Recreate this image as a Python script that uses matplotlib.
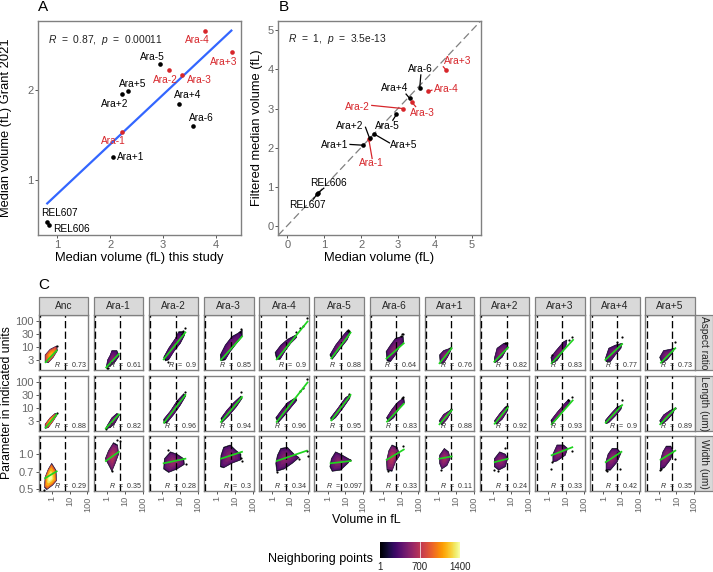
import numpy as np
from matplotlib import pyplot as plt
from matplotlib.patches import Rectangle
from matplotlib.cm import ScalarMappable
from matplotlib.colors import Normalize

plt.rcParams['font.family'] = ['Liberation Sans', 'DejaVu Sans']
plt.rcParams['mathtext.fontset'] = 'custom'
plt.rcParams['mathtext.it'] = 'Liberation Sans:italic'
plt.rcParams['mathtext.rm'] = 'Liberation Sans'

RED = '#d7262b'
W, H = 713, 572

# panel A
a_names = ['Ara-4', 'Ara+3', 'Ara-5', 'Ara-2', 'Ara-3', 'Ara+5', 'Ara+2', 'Ara+4', 'Ara-6', 'Ara-1', 'Ara+1', 'REL607', 'REL606']
a_x = [3.79, 4.30, 2.95, 3.11, 3.36, 2.34, 2.23, 3.31, 3.57, 2.22, 2.05, 0.80, 0.84]
a_y = [2.66, 2.42, 2.29, 2.22, 2.17, 1.99, 1.96, 1.85, 1.60, 1.53, 1.26, 0.53, 0.50]
a_lab_x = [3.64, 4.15, 2.80, 3.05, 3.68, 2.42, 2.08, 3.46, 3.73, 2.06, 2.39, 1.05, 1.26]
a_lab_y = [2.56, 2.31, 2.37, 2.11, 2.11, 2.07, 1.85, 1.94, 1.69, 1.43, 1.26, 0.63, 0.46]
a_fit_x = [0.81, 4.29]
a_fit_y = [0.74, 2.66]

# panel B
b_names = ['Ara-1', 'Ara+3', 'Ara-6', 'Ara-4', 'Ara+4', 'Ara-3', 'Ara-2', 'Ara-5', 'Ara+5', 'Ara+2', 'Ara+1', 'REL606', 'REL607']
b_x = [2.21, 4.31, 3.59, 3.81, 3.32, 3.37, 3.13, 2.96, 2.35, 2.23, 2.06, 0.84, 0.80]
b_y = [2.21, 3.98, 3.52, 3.44, 3.26, 3.17, 3.00, 2.85, 2.35, 2.24, 2.06, 0.84, 0.80]
b_lab_x = [2.28, 4.62, 3.62, 4.31, 2.90, 3.66, 1.91, 2.70, 3.16, 1.69, 1.28, 1.11, 0.54]
b_lab_y = [1.60, 4.23, 4.00, 3.51, 3.52, 2.88, 3.05, 2.56, 2.07, 2.55, 2.06, 1.09, 0.52]
b_seg_x = [2.30, 4.23, 3.62, 3.92, 3.22, 3.48, 2.29, 2.86, 2.77, 2.12, 1.70, 0.99, 0.71]
b_seg_y = [1.72, 4.07, 3.86, 3.47, 3.37, 3.05, 3.08, 2.70, 2.12, 2.52, 2.08, 0.96, 0.68]

# panel C, everything in log10 units
lines = ['Anc', 'Ara-1', 'Ara-2', 'Ara-3', 'Ara-4', 'Ara-5', 'Ara-6', 'Ara+1', 'Ara+2', 'Ara+3', 'Ara+4', 'Ara+5']
rows = ['Aspect ratio', 'Length (um)', 'Width (um)']

r_aspect = ['0.73', '0.61', '0.9', '0.85', '0.9', '0.88', '0.64', '0.76', '0.82', '0.83', '0.77', '0.73']
r_length = ['0.88', '0.82', '0.96', '0.94', '0.96', '0.95', '0.83', '0.88', '0.92', '0.93', '0.9', '0.89']
r_width = ['0.29', '0.35', '0.28', '0.3', '0.34', '0.097', '0.33', '0.11', '0.24', '0.33', '0.42', '0.35']

peak_aspect = [1150, 480, 450, 450, 450, 470, 500, 520, 500, 470, 470, 480]
peak_length = [1150, 480, 450, 450, 450, 470, 500, 520, 500, 470, 470, 480]
peak_width = [1400, 680, 560, 520, 520, 520, 680, 600, 540, 540, 540, 540]

cloud_aspect = [
    ([-.37, -.09, .28, .32, .09, -.19, -.37], [.68, .90, 1.03, .85, .59, .38, .42]),
    ([.28, .56, .69, .47, .19, -.04, .04, .19], [.85, .85, .64, .42, .25, .20, .49, .68]),
    ([.09, .37, .75, .94, 1.22, 1.27, 1.03, .66, .37, .19], [.59, .94, 1.32, 1.58, 1.58, 1.45, 1.13, .81, .49, .45]),
    ([.17, .45, .82, 1.14, 1.40, 1.40, 1.01, .73, .45, .21], [.68, 1.06, 1.39, 1.51, 1.64, 1.39, 1.06, .81, .49, .45]),
    ([.15, .47, .84, 1.31, 1.37, 1.03, .75, .43, .24], [.77, 1.06, 1.28, 1.45, 1.36, 1.13, .87, .51, .51]),
    ([.13, .45, .82, 1.10, 1.29, 1.10, .73, .45, .26], [.68, 1.06, 1.39, 1.62, 1.55, 1.26, .94, .68, .51]),
    ([.19, .43, .71, 1.14, 1.18, .90, .71, .43, .24], [.81, 1.06, 1.32, 1.41, 1.19, .94, .68, .42, .45]),
    ([.09, .32, .69, .73, .54, .32, .13], [.68, .85, .94, .85, .59, .36, .36]),
    ([.07, .22, .60, .84, .79, .51, .22, .09], [.55, .94, 1.13, 1.13, .94, .59, .42, .38]),
    ([.15, .39, .86, 1.05, 1.01, .77, .49, .21], [.59, .81, 1.19, 1.26, 1.06, .74, .46, .36]),
    ([.11, .30, .67, 1.05, .99, .67, .39, .15], [.55, .94, 1.06, 1.13, .94, .68, .42, .42]),
    ([.06, .28, .66, .90, .75, .47, .19], [.59, .85, .90, .94, .72, .49, .36]),
]
cloud_length = [
    ([-.37, -.09, .19, .32, .09, -.19, -.37], [.36, .61, .78, .74, .49, .23, .20]),
    ([0, .28, .56, .71, .47, .19, -.07], [.29, .61, .78, .72, .42, .23, .18]),
    ([.09, .47, .84, 1.22, 1.33, 1.03, .66, .28, .11], [.55, .87, 1.26, 1.54, 1.45, 1.10, .74, .42, .40]),
    ([.21, .54, .92, 1.33, 1.40, 1.07, .64, .26], [.59, .90, 1.19, 1.45, 1.36, 1.03, .68, .42]),
    ([.19, .47, .84, 1.31, 1.37, 1.03, .66, .32], [.61, .87, 1.19, 1.39, 1.28, 1.0, .68, .42]),
    ([.17, .54, 1.01, 1.29, 1.25, .82, .45, .21], [.61, .94, 1.39, 1.51, 1.36, .94, .61, .49]),
    ([.21, .52, .81, 1.18, 1.22, .90, .62, .34], [.61, .94, 1.19, 1.39, 1.19, .94, .61, .46]),
    ([.07, .32, .73, .77, .51, .22], [.49, .74, .92, .85, .55, .33]),
    ([.07, .37, .69, .84, .79, .51, .19], [.49, .77, 1.03, 1.03, .85, .55, .36]),
    ([.15, .49, .96, 1.14, 1.24, .77, .39, .21], [.51, .81, 1.19, 1.32, 1.26, .81, .49, .36]),
    ([.11, .39, .77, 1.05, .99, .67, .30, .15], [.51, .74, 1.03, 1.10, .94, .68, .42, .38]),
    ([.06, .28, .66, .92, .81, .47, .19], [.49, .72, .90, .97, .77, .51, .36]),
]
cloud_width = [
    ([0, .24, .28, .06, -.28, -.41, -.37, -.19], [-.08, -.14, -.23, -.27, -.31, -.29, -.20, -.13]),
    ([.37, .60, .66, .47, .28, .15, -.09, .09], [.10, .08, 0, -.08, -.15, -.11, -.04, .03]),
    ([.47, .84, 1.22, 1.25, .84, .37, .09, .13], [.02, 0, -.04, -.09, -.13, -.16, -.13, -.04]),
    ([.36, .73, 1.07, 1.33, 1.33, .82, .36, .17, .21], [.06, .08, .03, 0, -.05, -.08, -.12, -.11, -.01]),
    ([.47, .84, 1.22, 1.50, 1.12, .66, .24, .19, .28], [.05, .06, 0, -.03, -.08, -.13, -.15, -.08, -.01]),
    ([.45, .73, 1.29, 1.14, .73, .26, .13, .21], [.02, 0, -.05, -.08, -.14, -.15, -.11, -.04]),
    ([.52, .81, .96, .71, .52, .24, .21, .34], [.08, .06, -.01, -.07, -.15, -.14, -.06, .03]),
    ([.36, .60, .69, .51, .22, .09, .09], [.05, .02, -.04, -.10, -.13, -.08, -.01]),
    ([.37, .69, .82, .69, .32, .07, .07], [.02, 0, -.04, -.11, -.14, -.11, -.04]),
    ([.49, .86, 1.09, .96, .49, .26, .26], [.08, .08, .05, -.01, -.06, -.07, 0]),
    ([.49, .77, .99, .77, .39, .15, .15, .26], [.05, .05, .01, -.07, -.14, -.14, -.06, 0]),
    ([.43, .69, .84, .66, .32, .09, .13, .24], [.07, .07, .02, -.05, -.12, -.13, -.04, .02]),
]

fit_aspect = [
    ([-.34, .28], [.40, .85]), ([-.04, .67], [.20, .72]), ([.09, 1.31], [.51, 1.55]), ([.21, 1.39], [.49, 1.39]),
    ([.24, 1.97], [.51, 1.97]), ([.21, 1.29], [.55, 1.54]), ([.21, 1.18], [.54, 1.13]), ([.09, .77], [.36, .94]),
    ([.07, .84], [.42, .97]), ([.19, 1.39], [.36, 1.26]), ([.11, 1.05], [.49, 1.10]), ([.13, .94], [.38, .94]),
]
fit_length = [
    ([-.34, .28], [.23, .74]), ([-.06, .67], [.20, .74]), ([.11, 1.31], [.42, 1.49]), ([.21, 1.39], [.45, 1.41]),
    ([.24, 1.97], [.45, 1.97]), ([.21, 1.29], [.51, 1.49]), ([.24, 1.18], [.46, 1.15]), ([.09, .77], [.36, .90]),
    ([.09, .82], [.38, 1.0]), ([.19, 1.37], [.36, 1.28]), ([.13, 1.05], [.42, 1.10]), ([.09, .94], [.36, .97]),
]
fit_width = [
    ([-.37, .28], [-.21, -.15]), ([-.06, .67], [-.06, .02]), ([.09, 1.31], [-.08, -.04]), ([.21, 1.39], [-.04, .02]),
    ([.24, 1.93], [-.06, .03]), ([.17, 1.29], [-.08, -.06]), ([.22, 1.18], [-.05, .04]), ([.09, .77], [-.04, -.02]),
    ([.09, .82], [-.07, -.04]), ([.19, 1.35], [-.01, .06]), ([.13, 1.01], [-.07, .02]), ([.11, .94], [-.05, .03]),
]

# stray points outside the dense clouds
out_aspect = [
    ([.30], [1.02]), ([-.02, .05], [.18, .19]), ([1.31, .34, 1.10, 1.2], [1.71, .42, 1.50, 1.62]),
    ([1.34, 1.25], [1.68, 1.55]), ([1.93, 1.69, 1.55, 1.31], [2.09, 1.80, 1.71, 1.55]), ([1.15, 1.2], [1.66, 1.6]),
    ([1.15, 1.1, 1.05], [1.47, 1.5, 1.42]), ([.7], [.96]), ([.75, .65], [1.15, 1.14]),
    ([1.35, 1.15, .21], [1.39, 1.24, .68]), ([1.05, .77], [1.36, 1.19]), ([.92], [1.18]),
]
out_length = [
    ([.3], [.78]), ([-.06], [.18]), ([1.31, .85], [1.62, 1.25]), ([1.33], [1.60]),
    ([1.93, 1.69, 1.55], [2.09, 1.77, 1.64]), ([1.2], [1.52]), ([1.15, 1.1], [1.42, 1.38]), ([.75], [.93]),
    ([.8, .7], [1.06, 1.02]), ([1.35, 1.1], [1.41, 1.3]), ([1.05], [1.31]), ([.92], [1.0]),
]
out_width = [
    ([-.41], [-.31]), ([.56, .71, .28], [.12, .11, -.15]), ([.34, 1.35], [.04, -.09]), ([1.38, 1.33], [-.06, -.03]),
    ([2.02, 1.50, .24, 1.93], [-.02, -.04, -.16, .03]), ([1.27], [-.05]), ([1.14, .27], [.07, -.15]), ([.18], [-.14]),
    ([.66, .28, .07], [.05, -.15, -.14]), ([1.33, .17, .2], [.03, -.13, -.07]), ([.95, .2, .12], [-.13, -.15, -.14]), ([.92, .12, .1], [-.04, -.13, -.14]),
]

grid_clouds = [cloud_aspect, cloud_length, cloud_width]
grid_fits = [fit_aspect, fit_length, fit_width]
grid_out = [out_aspect, out_length, out_width]
grid_r = [r_aspect, r_length, r_width]
grid_peak = [peak_aspect, peak_length, peak_width]


def box(l, t, r, b):
    return [l / W, 1 - b / H, (r - l) / W, (b - t) / H]


def style(ax, tick=7):
    for s in ax.spines.values():
        s.set_color('#808080')
        s.set_linewidth(1.0)
    ax.tick_params(length=2, width=.7, color='#555555', labelcolor='#666666', labelsize=tick, pad=1.5, which='major')
    ax.tick_params(which='minor', length=0)


fig = plt.figure(figsize=(W / 100, H / 100), dpi=100)


def ftext(px, py, s, **kw):
    return fig.text(px / W, 1 - py / H, s, **kw)


# A
ax = fig.add_axes(box(38.3, 20.7, 240.7, 235))
style(ax, 8)
ax.plot(a_fit_x, a_fit_y, color='#3366FF', lw=1.6, zorder=2)
for n, x, y, lx, ly in zip(a_names, a_x, a_y, a_lab_x, a_lab_y):
    c = RED if n in ('Ara-1', 'Ara-2', 'Ara-3', 'Ara-4', 'Ara+3') else 'black'
    ax.scatter([x], [y], s=11, color=c, zorder=3, linewidths=0)
    ax.text(lx, ly, n, color=c, fontsize=7.3, ha='center', va='center', zorder=4)
ax.set_xlim(.641, 4.467)
ax.set_ylim(.389, 2.77)
ax.set_xticks([1, 2, 3, 4])
ax.set_yticks([1, 2])
ax.text(.82, 2.56, '$R$  =  0.87,  $p$  =  0.00011', fontsize=7.4, va='center', color='#222222')

# B
ax = fig.add_axes(box(278.3, 20.7, 481.3, 235))
style(ax, 8)
ax.plot([-.244, 5.26], [-.244, 5.26], color='#808080', lw=.9, ls=(0, (6, 3)), zorder=1)
for n, x, y, lx, ly, sx, sy in zip(b_names, b_x, b_y, b_lab_x, b_lab_y, b_seg_x, b_seg_y):
    c = RED if n in ('Ara-1', 'Ara-2', 'Ara-3', 'Ara-4', 'Ara+3') else 'black'
    ax.plot([sx, x], [sy, y], color=c, lw=.9, zorder=2)
    ax.scatter([x], [y], s=11, color=c, zorder=3, linewidths=0)
    ax.text(lx, ly, n, color=c, fontsize=7.3, ha='center', va='center', zorder=4)
ax.set_xlim(-.244, 5.26)
ax.set_ylim(-.24, 5.25)
ax.set_xticks(range(6))
ax.set_yticks(range(6))
ax.text(.03, 4.77, '$R$  =  1,  $p$  =  3.5e-13', fontsize=7.4, va='center', color='#222222')

ftext(139, 258, 'Median volume (fL) this study', fontsize=9.3, ha='center', va='center')
ftext(6.5, 128, 'Median volume (fL) Grant 2021', fontsize=9.3, ha='center', va='center', rotation=90)
ftext(379, 258, 'Median volume (fL)', fontsize=9.3, ha='center', va='center')
ftext(257, 128, 'Filtered median volume (fL)', fontsize=9.3, ha='center', va='center', rotation=90)
ftext(38, 7, 'A', fontsize=11, ha='left', va='center')
ftext(279, 7, 'B', fontsize=11, ha='left', va='center')
ftext(38, 285, 'C', fontsize=11, ha='left', va='center')

# C
row_t = [315, 376, 436.3]
row_b = [370, 431, 491.3]
pitch = 55.17
levels = [1, .9, .7, .45, .25]
level_w = [.12, .68, .82, .93, 1]
cmap = plt.get_cmap('inferno')

for c, name in enumerate(lines):
    l = 38.5 + pitch * c
    r = l + 49.6
    fig.add_artist(Rectangle((l / W, 1 - 315 / H), (r - l) / W, 17.7 / H, transform=fig.transFigure,
                             fc='#d9d9d9', ec='#808080', lw=.9))
    ftext((l + r) / 2, 306, name, fontsize=7.3, ha='center', va='center', color='#262626')
    for i in range(3):
        ax = fig.add_axes(box(l, row_t[i], r, row_b[i]))
        style(ax, 8)
        ax.set_xscale('log')
        ax.set_yscale('log')
        xs, ys = np.array(grid_clouds[i][c][0]), np.array(grid_clouds[i][c][1])
        cx, cy = xs.mean(), ys.mean()
        for lev, w in zip(levels, level_w):
            col = cmap(w * grid_peak[i][c] / 1400)
            ax.fill(10 ** (cx + lev * (xs - cx)), 10 ** (cy + lev * (ys - cy)), color=col, lw=.4, zorder=2)
        ox, oy = grid_out[i][c]
        ax.scatter(10 ** np.array(ox), 10 ** np.array(oy), s=2.5, color='black', linewidths=0, zorder=3)
        for v in [.22, 5.7]:
            ax.axvline(v, color='black', lw=.95, ls=(0, (5.5, 2.5)), zorder=4)
        fx, fy = grid_fits[i][c]
        ax.plot(10 ** np.array(fx), 10 ** np.array(fy), color='#1fd41f', lw=1.25, zorder=5)
        ax.set_xlim(10 ** -.74, 10 ** 2.04)
        if i < 2:
            ax.set_ylim(10 ** .10, 10 ** 2.22)
            ax.set_yticks([3, 10, 30, 100])
            ax.set_yticklabels(['3', '10', '30', '100'] if c == 0 else [])
        else:
            ax.set_ylim(.474, 1.43)
            ax.set_yticks([.5, .7, 1.0])
            ax.set_yticklabels(['0.5', '0.7', '1.0'] if c == 0 else [])
        ax.set_yticks([], minor=True)
        ax.set_xticks([], minor=True)
        if c > 0:
            ax.tick_params(axis='y', length=0)
        ax.set_xticks([1, 10, 100])
        if i == 2:
            ax.set_xticklabels(['1', '10', '100'], rotation=90, fontsize=6.6)
        else:
            ax.set_xticklabels([])
            ax.tick_params(axis='x', length=0)
        ax.text(.965, .025, '$R$  =  ' + grid_r[i][c], transform=ax.transAxes, fontsize=5.1,
                ha='right', va='bottom', color='#333333', zorder=6)

for i, name in enumerate(rows):
    l = 38.5 + pitch * 11 + 49.6
    fig.add_artist(Rectangle((l / W, 1 - row_b[i] / H), 17.7 / W, (row_b[i] - row_t[i]) / H,
                             transform=fig.transFigure, fc='#d9d9d9', ec='#808080', lw=.9))
    ftext(l + 9, (row_t[i] + row_b[i]) / 2, name, fontsize=7.3, ha='center', va='center', rotation=-90, color='#262626')

ftext(7, 403, 'Parameter in indicated units', fontsize=8.8, ha='center', va='center', rotation=90)
ftext(366.7, 520, 'Volume in fL', fontsize=9, ha='center', va='center')

# colour bar
cax = fig.add_axes(box(380, 541.7, 460, 558))
cb = fig.colorbar(ScalarMappable(Normalize(1, 1400), 'inferno'), cax=cax, orientation='horizontal')
cb.outline.set_visible(False)
cb.set_ticks([1, 700, 1400])
cb.set_ticklabels(['1', '700', '1400'])
cax.tick_params(length=0, labelsize=7, pad=3, labelcolor='#222222')
cax.axvline(700, color='white', lw=.5)
ftext(372.7, 559, 'Neighboring points', fontsize=9, ha='right', va='center')

fig.savefig('out.png', dpi=100)
